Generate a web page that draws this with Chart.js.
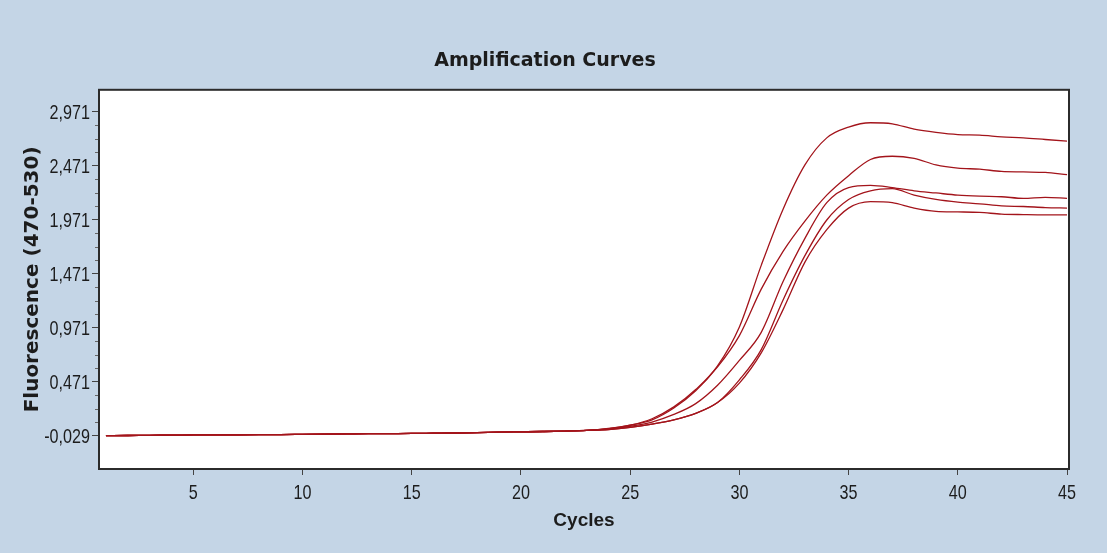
<!DOCTYPE html>
<html>
<head>
<meta charset="utf-8">
<script src="https://cdn.jsdelivr.net/npm/chart.js@4.4.1/dist/chart.umd.min.js"></script>
<style>
  html, body { margin: 0; padding: 0; background: #c4d5e6; }
  canvas { display: block; }
</style>
</head>
<body>
<canvas id="ampChart" width="1107" height="553"></canvas>
<script>
// qPCR amplification, 5 wells
const cycles = [1, 2, 3, 4, 5, 6, 7, 8, 9, 10, 11, 12, 13, 14, 15, 16, 17, 18, 19, 20,
    21, 22, 23, 24, 25, 26, 27, 28, 29, 30, 31, 32, 33, 34, 35, 36, 37, 38, 39, 40,
    41, 42, 43, 44, 45];

const wellA = [-0.026, -0.025, -0.023, -0.022, -0.020, -0.019, -0.018, -0.017, -0.016, -0.014,
    -0.012, -0.010, -0.008, -0.007, -0.006, -0.004, -0.002, 0.001, 0.006, 0.009,
    0.012, 0.016, 0.022, 0.040, 0.070, 0.130, 0.240, 0.400, 0.620, 0.980,
    1.550, 2.070, 2.480, 2.730, 2.830, 2.870, 2.860, 2.810, 2.780, 2.760,
    2.755, 2.740, 2.730, 2.715, 2.700];
const wellB = [-0.026, -0.025, -0.023, -0.022, -0.020, -0.019, -0.018, -0.017, -0.016, -0.014,
    -0.012, -0.010, -0.008, -0.007, -0.006, -0.004, -0.002, 0.001, 0.006, 0.009,
    0.012, 0.016, 0.022, 0.038, 0.070, 0.120, 0.230, 0.390, 0.610, 0.900,
    1.330, 1.680, 1.960, 2.200, 2.380, 2.530, 2.560, 2.540, 2.480, 2.450,
    2.440, 2.420, 2.415, 2.410, 2.390];
const wellC = [-0.026, -0.025, -0.023, -0.022, -0.020, -0.019, -0.018, -0.017, -0.016, -0.014,
    -0.012, -0.010, -0.008, -0.007, -0.006, -0.004, -0.002, 0.001, 0.006, 0.009,
    0.012, 0.016, 0.022, 0.034, 0.060, 0.100, 0.170, 0.270, 0.440, 0.670,
    0.930, 1.400, 1.800, 2.130, 2.270, 2.290, 2.270, 2.240, 2.220, 2.200,
    2.190, 2.185, 2.170, 2.180, 2.170];
const wellD = [-0.026, -0.025, -0.023, -0.022, -0.020, -0.019, -0.018, -0.017, -0.016, -0.014,
    -0.012, -0.010, -0.008, -0.007, -0.006, -0.004, -0.002, 0.001, 0.006, 0.009,
    0.012, 0.016, 0.022, 0.030, 0.050, 0.080, 0.120, 0.180, 0.280, 0.490,
    0.770, 1.230, 1.640, 1.970, 2.160, 2.240, 2.260, 2.200, 2.160, 2.135,
    2.120, 2.100, 2.095, 2.085, 2.080];
const wellE = [-0.026, -0.025, -0.023, -0.022, -0.020, -0.019, -0.018, -0.017, -0.016, -0.014,
    -0.012, -0.010, -0.008, -0.007, -0.006, -0.004, -0.002, 0.001, 0.006, 0.009,
    0.012, 0.016, 0.022, 0.030, 0.050, 0.080, 0.120, 0.180, 0.280, 0.460,
    0.740, 1.140, 1.580, 1.880, 2.080, 2.140, 2.130, 2.080, 2.050, 2.045,
    2.040, 2.025, 2.020, 2.017, 2.017];

const xTicks = [5, 10, 15, 20, 25, 30, 35, 40, 45];
const yTicks = [-0.029, 0.471, 0.971, 1.471, 1.971, 2.471, 2.971];
// 3 unlabeled ticks between each pair of labeled ones
const yMinorTicks = yTicks.slice(0, -1).flatMap(v => [1, 2, 3].map(k => v + k * 0.125));

const wells = [wellA, wellB, wellC, wellD, wellE];
const lineColor = '#a3141b';
const textColor = '#1c1c1c';
const labelFont = "21px 'Liberation Sans', Arial, sans-serif";
const squeeze = 0.77; // the original tick font is very condensed

const fmtY = v => v.toFixed(3).replace('.', ',');

function drawSqueezed(ctx, text, x, y, align) {
    ctx.save();
    ctx.translate(x, y);
    ctx.scale(squeeze, 1);
    ctx.font = labelFont;
    ctx.fillStyle = textColor;
    ctx.textAlign = align;
    ctx.textBaseline = 'alphabetic';
    ctx.fillText(text, 0, 0);
    ctx.restore();
}

const plotFrame = {
    id: 'plotFrame',
    beforeDraw(chart) {
        const { ctx, chartArea: a } = chart;
        ctx.save();
        ctx.fillStyle = '#c4d5e6';
        ctx.fillRect(0, 0, chart.width, chart.height);
        ctx.fillStyle = '#ffffff';
        ctx.fillRect(a.left, a.top, a.right - a.left, a.bottom - a.top);
        ctx.restore();
    },
    afterDraw(chart) {
        const { ctx, chartArea: a } = chart;
        const xScale = chart.scales.x;
        const yScale = chart.scales.y;
        ctx.save();
        ctx.strokeStyle = '#666';
        ctx.lineWidth = 1;
        yMinorTicks.forEach(v => {
            const py = Math.round(yScale.getPixelForValue(v)) + 0.5;
            ctx.beginPath();
            ctx.moveTo(a.left - 4, py);
            ctx.lineTo(a.left, py);
            ctx.stroke();
        });
        ctx.strokeStyle = '#2b2b2b';
        ctx.lineWidth = 2;
        ctx.strokeRect(a.left, a.top, a.right - a.left, a.bottom - a.top);
        ctx.restore();

        // tick labels, placed by the scales
        yTicks.forEach(v => {
            drawSqueezed(ctx, fmtY(v), a.left - 9, yScale.getPixelForValue(v) + 7.5, 'right');
        });
        xTicks.forEach(v => {
            drawSqueezed(ctx, String(v), xScale.getPixelForValue(v), a.bottom + 30, 'center');
        });
    }
};

const ctx = document.getElementById('ampChart').getContext('2d');

const ampChart = new Chart(ctx, {
    type: 'line',
    data: {
        datasets: wells.map(w => ({
            data: cycles.map((c, i) => ({ x: c, y: w[i] })),
            borderColor: lineColor,
            borderWidth: 1.3,
            pointRadius: 0,
            fill: false,
            cubicInterpolationMode: 'monotone'
        }))
    },
    options: {
        responsive: false,
        animation: false,
        layout: {
            padding: { left: 21, right: 38, top: 0, bottom: 0 }
        },
        plugins: {
            legend: { display: false },
            tooltip: { enabled: false },
            title: {
                display: true,
                text: 'Amplification Curves',
                color: textColor,
                font: { family: "'DejaVu Sans', sans-serif", size: 19, weight: 'bold' },
                padding: { top: 50, bottom: 17 }
            }
        },
        scales: {
            x: {
                type: 'linear',
                min: 0.682,
                max: 45.09,
                afterFit: s => { s.height = 84; },
                afterBuildTicks: s => { s.ticks = xTicks.map(v => ({ value: v })); },
                border: { display: false },
                grid: {
                    drawOnChartArea: false,
                    drawTicks: true,
                    tickLength: 6,
                    tickColor: '#444'
                },
                ticks: { display: false, autoSkip: false },
                title: {
                    display: true,
                    text: 'Cycles',
                    color: textColor,
                    font: { family: "'Liberation Sans', Arial, sans-serif", size: 19, weight: 'bold' },
                    padding: { top: 0, bottom: 21 }
                }
            },
            y: {
                min: -0.335,
                max: 3.175,
                afterFit: s => { s.width = 78; },
                afterBuildTicks: s => { s.ticks = yTicks.map(v => ({ value: v })); },
                border: { display: false },
                grid: {
                    drawOnChartArea: false,
                    drawTicks: true,
                    tickLength: 7,
                    tickColor: '#444'
                },
                ticks: { display: false, autoSkip: false, callback: v => fmtY(v) },
                title: {
                    display: true,
                    text: 'Fluorescence (470-530)',
                    color: textColor,
                    font: { family: "'DejaVu Sans', sans-serif", size: 20, weight: 'bold' },
                    padding: { top: 0, bottom: 0 }
                }
            }
        }
    },
    plugins: [plotFrame]
});
</script>
</body>
</html>
